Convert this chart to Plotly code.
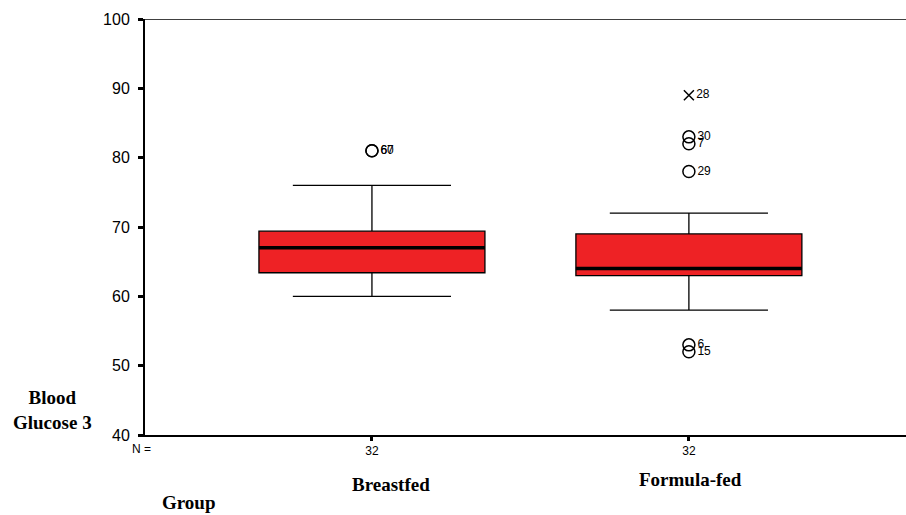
import plotly.graph_objects as go

groups = ["Breastfed", "Formula-fed"]
positions = [0, 1]
n_labels = ["32", "32"]
q1 = [63.4, 63.0]
median = [67.0, 64.0]
q3 = [69.4, 69.0]
lower_whisker = [60.0, 58.0]
upper_whisker = [76.0, 72.0]

# outliers (circles)
out_pos = [0, 0, 1, 1, 1, 1, 1]
out_val = [81, 81, 83, 82, 78, 53, 52]
out_lab = ["60", "67", "30", "7", "29", "6", "15"]
# extreme values (asterisk/cross)
ext_pos = [1]
ext_val = [89]
ext_lab = ["28"]

y_ticks = [40, 50, 60, 70, 80, 90, 100]

BOX_W = 0.713
RED = "#EE2225"

fig = go.Figure()

for i, g in enumerate(groups):
    fig.add_trace(go.Box(
        x=[positions[i]], q1=[q1[i]], median=[median[i]], q3=[q3[i]],
        lowerfence=[lower_whisker[i]], upperfence=[upper_whisker[i]],
        width=BOX_W, whiskerwidth=0.7, fillcolor=RED,
        line=dict(color="black", width=1.3), boxpoints=False,
        hoverinfo="skip", showlegend=False))
    fig.add_trace(go.Scatter(
        x=[positions[i] - BOX_W / 2, positions[i] + BOX_W / 2],
        y=[median[i], median[i]], mode="lines",
        line=dict(color="black", width=3.5), showlegend=False, hoverinfo="skip"))

fig.add_trace(go.Scatter(
    x=out_pos, y=out_val, mode="markers+text", text=out_lab,
    textposition="middle right",
    textfont=dict(family="Liberation Sans", size=12, color="black"),
    marker=dict(symbol="circle-open", size=12, color="black", line=dict(width=1.5)),
    showlegend=False, hoverinfo="skip"))
fig.add_trace(go.Scatter(
    x=ext_pos, y=ext_val, mode="markers+text", text=ext_lab,
    textposition="middle right",
    textfont=dict(family="Liberation Sans", size=12, color="black"),
    marker=dict(symbol="x-thin-open", size=10, color="black", line=dict(width=1.5, color="black")),
    showlegend=False, hoverinfo="skip"))

# top border line
fig.add_shape(type="line", xref="paper", yref="y", x0=0, x1=1, y0=100, y1=100,
              line=dict(color="black", width=1.3))

annots = [
    dict(x=0.06, y=-0.118, xref="x", yref="paper", text="<b>Breastfed</b>"),
    dict(x=1.006, y=-0.108, xref="x", yref="paper", text="<b>Formula-fed</b>"),
    dict(x=0.0578, y=-0.163, xref="paper", yref="paper", text="<b>Group</b>"),
    dict(x=-0.121, y=0.06, xref="paper", yref="paper", text="<b>Blood<br>Glucose 3</b>"),
]
for a in annots:
    fig.add_annotation(**a, showarrow=False, xanchor="center", yanchor="middle",
                       font=dict(family="Liberation Serif", size=19, color="black"))
fig.add_annotation(x=-0.004, y=-0.034, xref="paper", yref="paper", text="N =",
                   showarrow=False, xanchor="center", yanchor="middle",
                   font=dict(family="Liberation Sans", size=12, color="black"))

fig.update_layout(
    width=906, height=515, margin=dict(l=145, r=0, t=19, b=80),
    paper_bgcolor="white", plot_bgcolor="white",
    xaxis=dict(range=[-0.716, 1.685], tickvals=positions, ticktext=n_labels,
               showgrid=False, zeroline=False, showline=True, linecolor="black",
               linewidth=2, ticks="outside", ticklen=4, tickwidth=3, tickcolor="black",
               tickfont=dict(family="Liberation Sans", size=12, color="black")),
    yaxis=dict(range=[40, 100], tickvals=y_ticks, showgrid=False, zeroline=False,
               showline=True, linecolor="black", linewidth=2, ticks="outside",
               ticklen=5, tickwidth=3, tickcolor="black", ticklabelstandoff=5,
               tickfont=dict(family="Liberation Sans", size=16, color="black")),
)

fig.write_html("out.html")
